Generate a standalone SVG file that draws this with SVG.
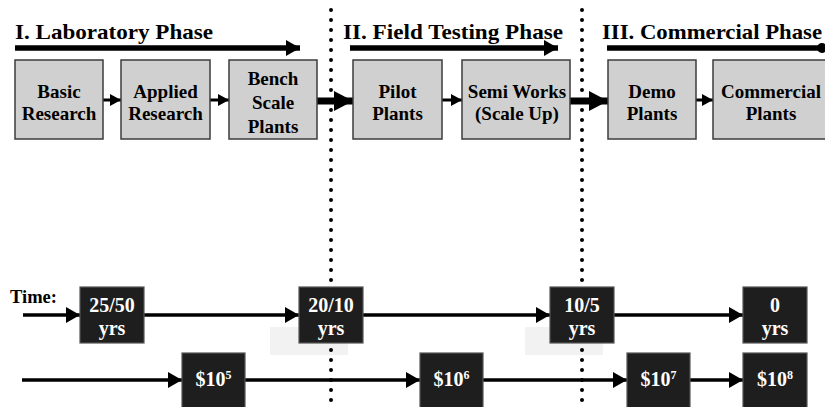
<svg xmlns="http://www.w3.org/2000/svg" width="825" height="407" viewBox="0 0 825 407">
<style>
text{font-family:"Liberation Serif","Times New Roman",serif;font-weight:bold}
.hd{font-size:22px;fill:#000}
.bt{font-size:19px;fill:#000;text-anchor:middle}
.wt{font-size:20px;fill:#fff;text-anchor:middle}
.gbox{fill:#d0d0d0;stroke:#3c3c3c;stroke-width:1.5}
.kbox{fill:#1e1e1e;stroke:#555;stroke-width:1.2}
.dot{stroke:#000;stroke-width:4;stroke-linecap:round;stroke-dasharray:0 10;fill:none}
.ln{stroke:#000;fill:none}
</style>
<defs>
<marker id="hHead" markerUnits="userSpaceOnUse" markerWidth="14" markerHeight="16" refX="14" refY="8" orient="auto"><path d="M0,0 L14,8 L0,16 z" fill="#000"/></marker>
<marker id="hSmall" markerUnits="userSpaceOnUse" markerWidth="11" markerHeight="12" refX="11" refY="6" orient="auto"><path d="M0,0 L11,6 L0,12 z" fill="#000"/></marker>
<marker id="hBig" markerUnits="userSpaceOnUse" markerWidth="19" markerHeight="20" refX="19" refY="10" orient="auto"><path d="M0,0 L19,10 L0,20 z" fill="#000"/></marker>
<marker id="hTime" markerUnits="userSpaceOnUse" markerWidth="14" markerHeight="16" refX="14" refY="8" orient="auto"><path d="M0,0 L14,8 L0,16 z" fill="#000"/></marker>
</defs>
<rect width="825" height="407" fill="#fff"/>
<g id="shadows">
<rect x="270" y="327" width="78" height="28" fill="#f2f2f2"/>
<rect x="525" y="327" width="78" height="28" fill="#f2f2f2"/>
</g>
<g id="dividers">
<line class="dot" x1="331" y1="10" x2="331" y2="410"/>
<line class="dot" x1="582" y1="10" x2="582" y2="410"/>
</g>
<g id="phase-headings">
<text class="hd" x="15" y="39" textLength="198" lengthAdjust="spacingAndGlyphs">I. Laboratory Phase</text>
<text class="hd" x="343" y="39" textLength="220" lengthAdjust="spacingAndGlyphs">II. Field Testing Phase</text>
<text class="hd" x="602" y="39" textLength="220" lengthAdjust="spacingAndGlyphs">III. Commercial Phase</text>
</g>
<g id="connectors">
<line class="ln" x1="15" y1="48" x2="300" y2="48" stroke-width="5.5" marker-end="url(#hHead)"/>
<line class="ln" x1="350" y1="48" x2="558" y2="48" stroke-width="5.5" marker-end="url(#hHead)"/>
<line class="ln" x1="607" y1="48" x2="822" y2="48" stroke-width="5.5"/>
<circle cx="822" cy="48" r="5" fill="#000"/>
<line class="ln" x1="103" y1="100" x2="121" y2="100" stroke-width="3" marker-end="url(#hSmall)"/>
<line class="ln" x1="210" y1="100" x2="229" y2="100" stroke-width="3" marker-end="url(#hSmall)"/>
<line class="ln" x1="442" y1="100" x2="462" y2="100" stroke-width="3" marker-end="url(#hSmall)"/>
<line class="ln" x1="696" y1="100" x2="713" y2="100" stroke-width="3" marker-end="url(#hSmall)"/>
<line class="ln" x1="317" y1="101" x2="353" y2="101" stroke-width="7" marker-end="url(#hBig)"/>
<line class="ln" x1="570" y1="101" x2="608" y2="101" stroke-width="7" marker-end="url(#hBig)"/>
<line class="ln" x1="23" y1="315" x2="80" y2="315" stroke-width="3.5" marker-end="url(#hTime)"/>
<line class="ln" x1="144" y1="315" x2="299" y2="315" stroke-width="3.5" marker-end="url(#hTime)"/>
<line class="ln" x1="363" y1="315" x2="550" y2="315" stroke-width="3.5" marker-end="url(#hTime)"/>
<line class="ln" x1="614" y1="315" x2="743" y2="315" stroke-width="3.5" marker-end="url(#hTime)"/>
<line class="ln" x1="22" y1="380" x2="182" y2="380" stroke-width="3.5" marker-end="url(#hTime)"/>
<line class="ln" x1="245" y1="380" x2="420" y2="380" stroke-width="3.5" marker-end="url(#hTime)"/>
<line class="ln" x1="483" y1="380" x2="627" y2="380" stroke-width="3.5" marker-end="url(#hTime)"/>
<line class="ln" x1="690" y1="380" x2="743" y2="380" stroke-width="3.5" marker-end="url(#hTime)"/>
</g>
<g id="basic-research"><rect class="gbox" x="15" y="60" width="88" height="79"/><text class="bt" x="59" y="98">Basic</text><text class="bt" x="59" y="120">Research</text></g>
<g id="applied-research"><rect class="gbox" x="121" y="60" width="89" height="79"/><text class="bt" x="165.5" y="98">Applied</text><text class="bt" x="165.5" y="120">Research</text></g>
<g id="bench-scale"><rect class="gbox" x="229" y="60" width="88" height="79"/><text class="bt" x="273" y="85">Bench</text><text class="bt" x="273" y="109">Scale</text><text class="bt" x="273" y="133">Plants</text></g>
<g id="pilot-plants"><rect class="gbox" x="353" y="60" width="89" height="79"/><text class="bt" x="397.5" y="98">Pilot</text><text class="bt" x="397.5" y="120">Plants</text></g>
<g id="semi-works"><rect class="gbox" x="462" y="60" width="108" height="79"/><text class="bt" x="517" y="98">Semi Works</text><text class="bt" x="517" y="120">(Scale Up)</text></g>
<g id="demo-plants"><rect class="gbox" x="608" y="60" width="88" height="79"/><text class="bt" x="652" y="98">Demo</text><text class="bt" x="652" y="120">Plants</text></g>
<g id="commercial-plants"><rect class="gbox" x="713" y="60" width="115" height="79"/><text class="bt" x="771" y="98">Commercial</text><text class="bt" x="771" y="120">Plants</text></g>
<g id="time-label"><text x="10" y="303" font-size="18.5">Time:</text></g>
<g id="t-25-50"><rect class="kbox" x="80" y="287" width="64" height="56"/><text class="wt" x="112" y="312">25/50</text><text class="wt" x="112" y="335">yrs</text></g>
<g id="t-20-10"><rect class="kbox" x="299" y="287" width="64" height="56"/><text class="wt" x="331" y="312">20/10</text><text class="wt" x="331" y="335">yrs</text></g>
<g id="t-10-5"><rect class="kbox" x="550" y="287" width="64" height="56"/><text class="wt" x="582" y="312">10/5</text><text class="wt" x="582" y="335">yrs</text></g>
<g id="t-0"><rect class="kbox" x="743" y="287" width="64" height="56"/><text class="wt" x="775" y="312">0</text><text class="wt" x="775" y="335">yrs</text></g>
<g id="c-1e5"><rect class="kbox" x="182" y="353" width="63" height="60"/><text class="wt" x="213.5" y="386">$10<tspan font-size="12" dy="-7">5</tspan></text></g>
<g id="c-1e6"><rect class="kbox" x="420" y="353" width="63" height="60"/><text class="wt" x="451.5" y="386">$10<tspan font-size="12" dy="-7">6</tspan></text></g>
<g id="c-1e7"><rect class="kbox" x="627" y="353" width="63" height="60"/><text class="wt" x="658.5" y="386">$10<tspan font-size="12" dy="-7">7</tspan></text></g>
<g id="c-1e8"><rect class="kbox" x="743" y="353" width="64" height="60"/><text class="wt" x="775" y="386">$10<tspan font-size="12" dy="-7">8</tspan></text></g>
</svg>
